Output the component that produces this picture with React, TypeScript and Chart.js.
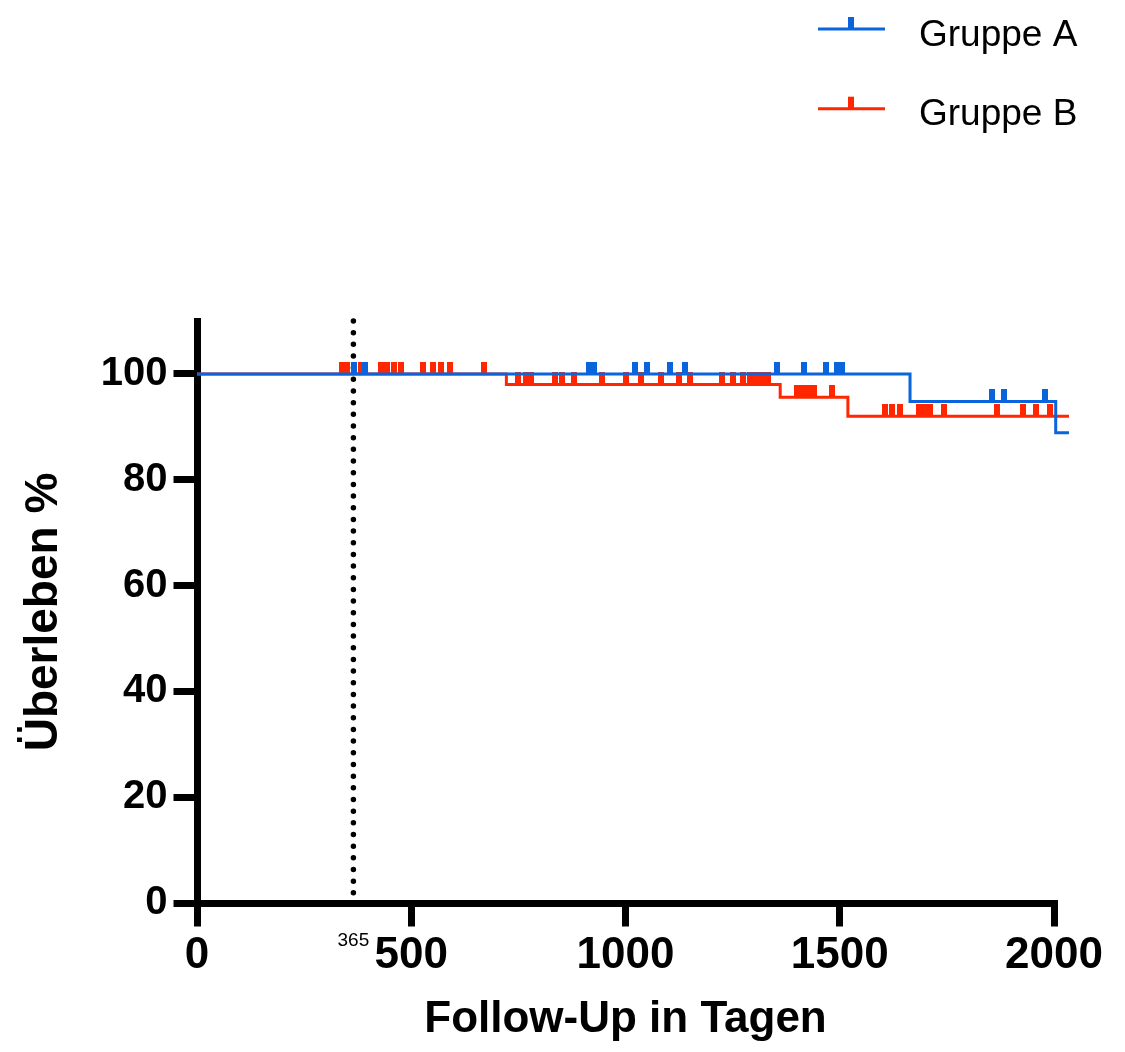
import { useEffect, useRef } from 'react';
import { Chart, registerables } from 'chart.js';

Chart.register(...registerables);

const xTickValues = [0, 500, 1000, 1500, 2000];
const yTickValues = [0, 20, 40, 60, 80, 100];
const landmarkDay = 365;
const xAxisMax = 2000;
const yAxisMax = 110;
const followUpEnd = 2035;

const groupALabel = 'Gruppe A';
const groupAEventDays = [0, 1664, 2004];
const groupASurvival = [100, 94.8, 88.9];
const groupACensorDays = [366, 393, 915, 926, 1022, 1051, 1104, 1140, 1354, 1417, 1468, 1494, 1506, 1856, 1883, 1980];

const groupBLabel = 'Gruppe B';
const groupBEventDays = [0, 722, 1361, 1519];
const groupBSurvival = [100, 98.0, 95.6, 92.0];
const groupBCensorDays = [
  338, 349, 383, 429, 444, 460, 476, 528, 551, 570, 590, 670,
  748, 767, 779, 835, 852, 880, 945, 1001, 1036, 1084, 1124, 1150, 1226, 1252, 1275, 1290, 1305, 1318, 1333,
  1400, 1414, 1427, 1440, 1481,
  1606, 1623, 1640, 1685, 1697, 1710, 1744, 1868, 1928, 1958, 1990,
];

const BLUE = '#0A64DC';
const RED = '#FF2600';
const FONT = '"Liberation Sans", Arial, sans-serif';

function stepPoints(days: number[], surv: number[], end: number) {
  const pts = days.map((d, i) => ({ x: d, y: surv[i] }));
  pts.push({ x: end, y: surv[surv.length - 1] });
  return pts;
}

function survivalAt(days: number[], surv: number[], t: number) {
  let v = surv[0];
  for (let i = 0; i < days.length; i++) if (days[i] <= t) v = surv[i];
  return v;
}

function makeTick(color: string) {
  const c = document.createElement('canvas');
  c.width = 6;
  c.height = 24;
  const g = c.getContext('2d')!;
  g.fillStyle = color;
  g.fillRect(0, 0, 6, 12);
  return c;
}

const legendPlugin = {
  id: 'kmLegend',
  afterDraw(chart: any) {
    const ctx = chart.ctx as CanvasRenderingContext2D;
    const items = chart.data.datasets.filter((d: any) => d.kmLegend);
    items.forEach((d: any, i: number) => {
      const y = 29 + i * 79.7;
      ctx.save();
      ctx.strokeStyle = d.borderColor;
      ctx.lineWidth = 3;
      ctx.beginPath();
      ctx.moveTo(818, y);
      ctx.lineTo(885, y);
      ctx.stroke();
      ctx.fillStyle = d.borderColor;
      ctx.fillRect(848, y - 12, 6, 12);
      ctx.fillStyle = '#000';
      ctx.font = `37px ${FONT}`;
      ctx.textBaseline = 'alphabetic';
      ctx.textAlign = 'left';
      ctx.fillText(d.label, 919, y + 16.5);
      ctx.restore();
    });
  },
};

export default function App() {
  const ref = useRef<HTMLCanvasElement>(null);

  useEffect(() => {
    document.body.style.margin = '0';
    Chart.defaults.font.family = FONT;
    const tickA = makeTick(BLUE);
    const tickB = makeTick(RED);

    const chart = new Chart(ref.current!, {
      type: 'line',
      data: {
        datasets: [
          {
            label: groupALabel,
            kmLegend: true,
            data: stepPoints(groupAEventDays, groupASurvival, followUpEnd),
            borderColor: BLUE,
            backgroundColor: BLUE,
            borderWidth: 3,
            stepped: 'before',
            pointRadius: 0,
            fill: false,
            order: 0,
            clip: false,
          } as any,
          {
            label: groupALabel + ' zensiert',
            data: groupACensorDays.map((t) => ({ x: t, y: survivalAt(groupAEventDays, groupASurvival, t) })),
            showLine: false,
            pointStyle: tickA,
            pointRadius: 1,
            order: 1,
            clip: false,
          } as any,
          {
            label: groupBLabel,
            kmLegend: true,
            data: stepPoints(groupBEventDays, groupBSurvival, followUpEnd),
            borderColor: RED,
            backgroundColor: RED,
            borderWidth: 3,
            stepped: 'before',
            pointRadius: 0,
            fill: false,
            order: 2,
            clip: false,
          } as any,
          {
            label: groupBLabel + ' zensiert',
            data: groupBCensorDays.map((t) => ({ x: t, y: survivalAt(groupBEventDays, groupBSurvival, t) })),
            showLine: false,
            pointStyle: tickB,
            pointRadius: 1,
            order: 3,
            clip: false,
          } as any,
          {
            label: String(landmarkDay),
            data: [
              { x: landmarkDay, y: yAxisMax },
              { x: landmarkDay, y: 0 },
            ],
            borderColor: '#000',
            borderWidth: 5.5,
            borderDash: [0, 11.67],
            borderCapStyle: 'round',
            pointRadius: 0,
            order: 4,
            clip: false,
          } as any,
        ],
      },
      options: {
        responsive: true,
        maintainAspectRatio: false,
        animation: false,
        events: [],
        layout: { padding: { top: 321, right: 71, left: 0, bottom: 0 } },
        plugins: { legend: { display: false }, tooltip: { enabled: false } },
        scales: {
          x: {
            type: 'linear',
            bounds: 'data',
            afterDataLimits: (s: any) => {
              s.min = 0;
              s.max = xAxisMax;
            },
            afterBuildTicks: (s: any) => {
              s.ticks = [...xTickValues, landmarkDay].sort((a, b) => a - b).map((v) => ({ value: v }));
            },
            afterFit: (s: any) => {
              s.height = 149;
            },
            border: { display: true, color: '#000', width: 7 },
            grid: {
              drawOnChartArea: false,
              drawTicks: true,
              tickLength: 23.5,
              lineWidth: 7,
              color: (c: any) => (c.tick && c.tick.value === landmarkDay ? 'rgba(0,0,0,0)' : '#000'),
              tickColor: (c: any) => (c.tick && c.tick.value === landmarkDay ? 'rgba(0,0,0,0)' : '#000'),
            },
            ticks: {
              autoSkip: false,
              maxRotation: 0,
              minRotation: 0,
              padding: 3,
              color: '#000',
              font: (c: any) =>
                c.tick && c.tick.value === landmarkDay
                  ? { size: 19, weight: 'normal', family: FONT }
                  : { size: 44, weight: 'bold', family: FONT },
              callback: (v: any) => String(v),
            },
            title: {
              display: true,
              text: 'Follow-Up in Tagen',
              color: '#000',
              font: { size: 44, weight: 'bold', family: FONT },
              padding: { top: 0, bottom: 5.6 },
            },
          },
          y: {
            type: 'linear',
            min: 0,
            max: yAxisMax,
            afterBuildTicks: (s: any) => {
              s.ticks = yTickValues.map((v) => ({ value: v }));
            },
            afterFit: (s: any) => {
              s.width = 197;
            },
            border: { display: true, color: '#000', width: 7 },
            grid: {
              drawOnChartArea: false,
              drawTicks: true,
              tickLength: 23.5,
              lineWidth: 7,
              color: '#000',
              tickColor: '#000',
            },
            ticks: {
              padding: 6,
              color: '#000',
              font: { size: 40, weight: 'bold', family: FONT },
              callback: (v: any) => String(v),
            },
            title: {
              display: true,
              text: 'Überleben %',
              color: '#000',
              font: { size: 46, weight: 'bold', family: FONT },
              padding: { top: 16.4, bottom: 0 },
            },
          },
        },
      } as any,
      plugins: [legendPlugin],
    });

    return () => chart.destroy();
  }, []);

  return (
    <div style={{ position: 'relative', width: 1125, height: 1052 }}>
      <canvas ref={ref} />
    </div>
  );
}
